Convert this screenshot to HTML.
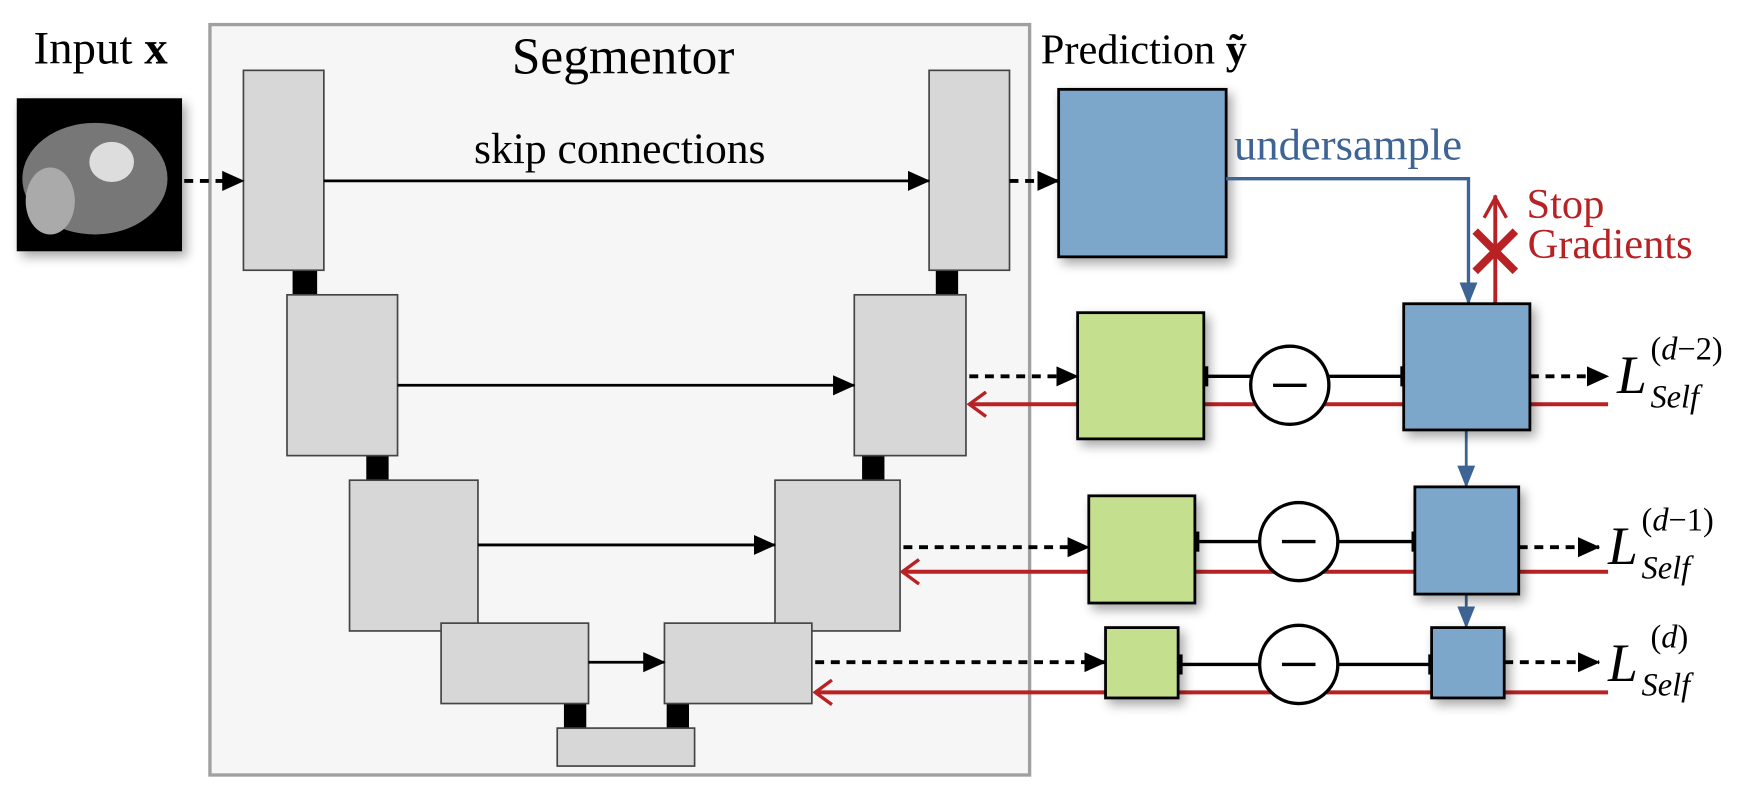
<!DOCTYPE html>
<html><head><meta charset="utf-8"><style>html,body{margin:0;padding:0;background:#fff}svg{display:block}</style></head>
<body>
<svg width="1751" height="797" viewBox="0 0 1568 713.7" preserveAspectRatio="none" xmlns="http://www.w3.org/2000/svg" font-family="'Liberation Serif', serif">
<defs>
<filter id="sh" x="-20%" y="-20%" width="150%" height="150%"><feGaussianBlur in="SourceAlpha" stdDeviation="5"/><feOffset dx="4" dy="5"/><feComponentTransfer><feFuncA type="linear" slope="0.35"/></feComponentTransfer><feMerge><feMergeNode/><feMergeNode in="SourceGraphic"/></feMerge></filter>
<marker id="abig" markerWidth="20" markerHeight="20" refX="19" refY="10" orient="auto" markerUnits="userSpaceOnUse" viewBox="0 0 20 20"><path d="M0,1 L20,10 L0,19z" fill="#000"/></marker>
<marker id="ablue" markerWidth="20" markerHeight="20" refX="19" refY="10" orient="auto" markerUnits="userSpaceOnUse" viewBox="0 0 20 20"><path d="M0,2 L20,10 L0,18z" fill="#3d6494"/></marker>
<marker id="ared" markerWidth="20" markerHeight="24" refX="18" refY="12" orient="auto" markerUnits="userSpaceOnUse" viewBox="0 0 20 24"><path d="M3,1 L18,12 L3,23" fill="none" stroke="#b82225" stroke-width="3"/></marker>
</defs>
<text x="30" y="57" font-size="42">Input <tspan font-weight="bold">x</tspan></text>
<rect x="15" y="88" width="148" height="137" fill="#000" filter="url(#sh)"/>
<ellipse cx="85" cy="160" rx="65" ry="50" fill="#777"/>
<ellipse cx="100" cy="145" rx="20" ry="18" fill="#ddd"/>
<ellipse cx="45" cy="180" rx="22" ry="30" fill="#aaa"/>
<rect x="188" y="22" width="734" height="672" fill="#f6f6f6" stroke="#a0a0a0" stroke-width="3"/>
<text x="558" y="66" font-size="46" text-anchor="middle">Segmentor</text>
<text x="555" y="146" font-size="39" text-anchor="middle">skip connections</text>
<g fill="#000">
<rect x="262" y="242" width="22" height="22"/><rect x="328" y="408" width="20" height="22"/><rect x="400" y="540" width="20" height="18"/>
<rect x="505" y="630" width="20" height="22"/><rect x="597" y="630" width="20" height="22"/>
<rect x="838" y="242" width="20" height="22"/><rect x="772" y="408" width="20" height="22"/><rect x="701" y="540" width="19" height="18"/>
</g>
<g fill="#d7d7d7" stroke="#444" stroke-width="1.5">
<rect x="218" y="63" width="72" height="179"/><rect x="257" y="264" width="99" height="144"/><rect x="313" y="430" width="115" height="135"/>
<rect x="395" y="558" width="132" height="72"/><rect x="499" y="652" width="123" height="34"/>
<rect x="832" y="63" width="72" height="179"/><rect x="765" y="264" width="100" height="144"/><rect x="694" y="430" width="112" height="135"/><rect x="595" y="558" width="132" height="72"/>
</g>
<g stroke="#000" stroke-width="2.5">
<line x1="290" y1="162" x2="832" y2="162" marker-end="url(#abig)"/>
<line x1="356" y1="345" x2="765" y2="345" marker-end="url(#abig)"/>
<line x1="428" y1="488" x2="694" y2="488" marker-end="url(#abig)"/>
<line x1="527" y1="593" x2="595" y2="593" marker-end="url(#abig)"/>
</g>
<g stroke="#000" stroke-width="3.5" stroke-dasharray="8,6">
<line x1="165" y1="162" x2="218" y2="162" marker-end="url(#abig)"/>
<line x1="904" y1="162" x2="948" y2="162" marker-end="url(#abig)"/>
<line x1="868" y1="337" x2="965" y2="337" marker-end="url(#abig)"/>
<line x1="809" y1="490" x2="975" y2="490" marker-end="url(#abig)"/>
<line x1="730" y1="593" x2="990" y2="593" marker-end="url(#abig)"/>
<line x1="1370" y1="337" x2="1440" y2="337" marker-end="url(#abig)"/>
<line x1="1360" y1="490" x2="1432" y2="490" marker-end="url(#abig)"/>
<line x1="1347" y1="593" x2="1432" y2="593" marker-end="url(#abig)"/>
</g>
<g stroke="#b82225" stroke-width="3.5">
<line x1="1440" y1="362" x2="868" y2="362" marker-end="url(#ared)"/>
<line x1="1440" y1="512" x2="808" y2="512" marker-end="url(#ared)"/>
<line x1="1440" y1="620" x2="730" y2="620" marker-end="url(#ared)"/>
</g>
<text x="932" y="57" font-size="38">Prediction <tspan font-weight="bold">ỹ</tspan></text>
<rect x="948" y="80" width="150" height="150" fill="#7ba7cb" stroke="#000" stroke-width="2.5" filter="url(#sh)"/>
<text x="1105" y="143" font-size="40" fill="#3d6494">undersample</text>
<polyline points="1098,160 1315,160 1315,272" fill="none" stroke="#3d6494" stroke-width="3" marker-end="url(#ablue)"/>
<line x1="1313" y1="385" x2="1313" y2="436" stroke="#3d6494" stroke-width="2.5" marker-end="url(#ablue)"/>
<line x1="1313" y1="532" x2="1313" y2="562" stroke="#3d6494" stroke-width="2.5" marker-end="url(#ablue)"/>
<g stroke="#b82225" fill="none">
<line x1="1339" y1="272" x2="1339" y2="175" stroke-width="3.5"/>
<polyline points="1329,195 1339,177 1349,195" stroke-width="3"/>
<line x1="1321" y1="207" x2="1357" y2="243" stroke-width="7"/><line x1="1357" y1="207" x2="1321" y2="243" stroke-width="7"/>
</g>
<text x="1367" y="195" font-size="38" fill="#b82225">Stop</text>
<text x="1368" y="231" font-size="38" fill="#b82225">Gradients</text>
<g stroke="#000" stroke-width="3" fill="none">
<line x1="1078" y1="337" x2="1120" y2="337"/><line x1="1190" y1="337" x2="1257" y2="337"/>
<line x1="1070" y1="485" x2="1128" y2="485"/><line x1="1198" y1="485" x2="1267" y2="485"/>
<line x1="1055" y1="595" x2="1128" y2="595"/><line x1="1198" y1="595" x2="1282" y2="595"/>
<circle cx="1155" cy="345" r="35" fill="#fff"/><circle cx="1163" cy="485" r="35" fill="#fff"/><circle cx="1163" cy="595" r="35" fill="#fff"/>
<line x1="1140" y1="345" x2="1170" y2="345"/><line x1="1148" y1="485" x2="1178" y2="485"/><line x1="1148" y1="595" x2="1178" y2="595"/>
</g>
<g stroke="#000" stroke-width="2.5" filter="url(#sh)">
<rect x="965" y="280" width="113" height="113" fill="#c4e08f"/>
<rect x="975" y="444" width="95" height="96" fill="#c4e08f"/>
<rect x="990" y="562" width="65" height="63" fill="#c4e08f"/>
<rect x="1257" y="272" width="113" height="113" fill="#7ba7cb"/>
<rect x="1267" y="436" width="93" height="96" fill="#7ba7cb"/>
<rect x="1282" y="562" width="65" height="63" fill="#7ba7cb"/>
</g>
<g fill="#000"><rect x="1078" y="328" width="4" height="18"/><rect x="1254" y="328" width="4" height="18"/><rect x="1070" y="476" width="4" height="18"/><rect x="1264" y="476" width="4" height="18"/><rect x="1055" y="586" width="4" height="18"/><rect x="1279" y="586" width="4" height="18"/></g>
<g font-style="italic">
<text x="1448" y="352" font-size="48">L</text><text x="1478" y="322" font-size="29" font-style="normal">(<tspan font-style="italic">d</tspan>−2)</text><text x="1478" y="365" font-size="29">Self</text>
<text x="1440" y="505" font-size="48">L</text><text x="1470" y="475" font-size="29" font-style="normal">(<tspan font-style="italic">d</tspan>−1)</text><text x="1470" y="518" font-size="29">Self</text>
<text x="1440" y="610" font-size="48">L</text><text x="1478" y="580" font-size="29" font-style="normal">(<tspan font-style="italic">d</tspan>)</text><text x="1470" y="623" font-size="29">Self</text>
</g>
</svg>
</body></html>
